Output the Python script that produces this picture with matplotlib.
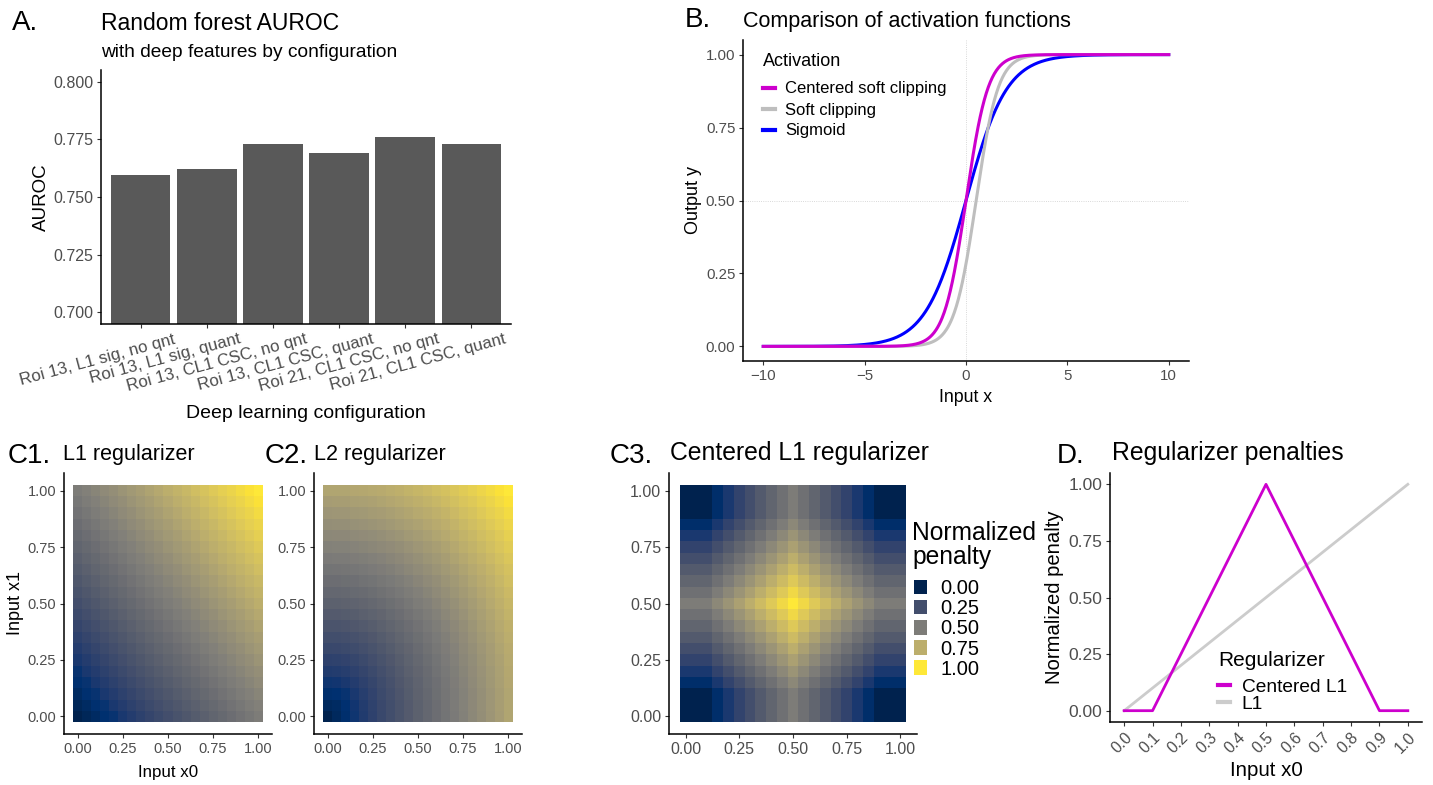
import numpy as np
import matplotlib
matplotlib.use("Agg")
import matplotlib.pyplot as plt
from matplotlib.patches import Patch
from matplotlib.transforms import ScaledTranslation

plt.rcParams['font.family'] = ['Liberation Sans', 'DejaVu Sans']

# ---- data ----
# A. random forest AUROC per deep learning configuration
configs = ["Roi 13, L1 sig, no qnt", "Roi 13, L1 sig, quant",
           "Roi 13, CL1 CSC, no qnt", "Roi 13, CL1 CSC, quant",
           "Roi 21, CL1 CSC, no qnt", "Roi 21, CL1 CSC, quant"]
auroc = [0.7597, 0.7622, 0.7730, 0.7692, 0.7760, 0.7730]

# B. activation functions (sharpness of the soft clipping)
act_x = np.linspace(-10, 10, 801)
clip_p = 2.0

# C. regularizer grids (value per input along one axis)
grid = [0.00, 0.05, 0.10, 0.15, 0.20, 0.25, 0.30, 0.35, 0.40, 0.45, 0.50,
        0.55, 0.60, 0.65, 0.70, 0.75, 0.80, 0.85, 0.90, 0.95, 1.00]
centered_grid = [0.0, 0.0, 0.0, 0.125, 0.25, 0.375, 0.5, 0.625, 0.75, 0.875, 1.0,
                 0.875, 0.75, 0.625, 0.5, 0.375, 0.25, 0.125, 0.0, 0.0, 0.0]

# D. regularizer penalties along x0
pen_x = [0.0, 0.1, 0.2, 0.3, 0.4, 0.5, 0.6, 0.7, 0.8, 0.9, 1.0]
pen_centered = [0.0, 0.0, 0.25, 0.5, 0.75, 1.0, 0.75, 0.5, 0.25, 0.0, 0.0]
pen_l1 = [0.0, 0.1, 0.2, 0.3, 0.4, 0.5, 0.6, 0.7, 0.8, 0.9, 1.0]

MAGENTA = '#CD00CD'
TICKCOL = '#4D4D4D'

W, H = 1433, 785
fig = plt.figure(figsize=(W / 100, H / 100), dpi=100)


def box(l, t, r, b):
    return [l / W, 1 - b / H, (r - l) / W, (b - t) / H]


def ftext(x, y, s, **kw):
    kw.setdefault('va', 'baseline')
    fig.text(x / W, 1 - y / H, s, **kw)


def style(ax, size=11.5):
    for s in ['top', 'right']:
        ax.spines[s].set_visible(False)
    for s in ['left', 'bottom']:
        ax.spines[s].set_linewidth(1.1)
    ax.tick_params(length=3, width=0.8, color='#333333', labelcolor=TICKCOL,
                   labelsize=size, pad=2.5)


def legend_at(ax, handles, x, yc, **kw):
    leg = ax.legend(handles=handles, frameon=False, loc='center left',
                    bbox_to_anchor=(x / W, 1 - yc / H),
                    bbox_transform=fig.transFigure, borderpad=0,
                    borderaxespad=0, **kw)
    return leg


# ---- A ----
axA = fig.add_axes(box(101, 70, 511, 324))
style(axA)
pos = np.arange(1, len(configs) + 1)
axA.bar(pos, auroc, width=0.9, color='#595959')
axA.set_xlim(0.4, 6.6)
axA.set_ylim(0.695, 0.805)
axA.set_yticks([0.700, 0.725, 0.750, 0.775, 0.800])
axA.set_yticklabels(['0.700', '0.725', '0.750', '0.775', '0.800'])
axA.set_xticks(pos)
axA.set_xticklabels(configs, rotation=15, ha='right', fontsize=12.2)
shift = ScaledTranslation(0.36, 0, fig.dpi_scale_trans)
for lab in axA.get_xticklabels():
    lab.set_transform(lab.get_transform() + shift)
ftext(12, 30, 'A.', fontsize=20)
ftext(101, 30, 'Random forest AUROC', fontsize=16.5)
ftext(101, 57, 'with deep features by configuration', fontsize=13.8)
ftext(306, 413, 'Deep learning configuration', fontsize=14, ha='center', va='center')
ftext(41, 197, 'AUROC', fontsize=13.5, ha='center', va='center', rotation=90)

# ---- B ----
axB = fig.add_axes(box(743, 40, 1189, 361))
style(axB, 10.8)
axB.axvline(0, color='#CCCCCC', lw=0.6, ls=':', zorder=0)
axB.axhline(0.5, color='#CCCCCC', lw=0.6, ls=':', zorder=0)


def soft_clip(x, p):
    return np.log((1 + np.exp(p * x)) / (1 + np.exp(p * (x - 1)))) / p


l_sig, = axB.plot(act_x, 1 / (1 + np.exp(-act_x)), color='#0000FF', lw=2.2,
                  label='Sigmoid')
l_sc, = axB.plot(act_x, soft_clip(act_x, clip_p), color='#BEBEBE', lw=2.2,
                 label='Soft clipping')
l_csc, = axB.plot(act_x, soft_clip(act_x + 0.5, clip_p), color=MAGENTA, lw=2.2,
                  label='Centered soft clipping')
axB.set_xlim(-11, 11)
axB.set_ylim(-0.05, 1.05)
axB.set_xticks([-10, -5, 0, 5, 10])
axB.set_yticks([0, 0.25, 0.5, 0.75, 1.0])
axB.set_yticklabels(['0.00', '0.25', '0.50', '0.75', '1.00'])
legB = legend_at(axB, [l_csc, l_sc, l_sig], 763, 110, fontsize=12,
                 handlelength=0.72, handletextpad=0.6, labelspacing=0.36)
for h in legB.legend_handles:
    h.set_linewidth(3)
ftext(763, 62, 'Activation', fontsize=13, va='center')
ftext(685, 27, 'B.', fontsize=20)
ftext(743, 27, 'Comparison of activation functions', fontsize=15.5)
ftext(966, 397, 'Input x', fontsize=12.8, ha='center', va='center')
ftext(694, 200, 'Output y', fontsize=13, ha='center', va='center', rotation=90)

# ---- C ----
g = np.array(grid)
c = np.array(centered_grid)
edges = np.append(g - 0.025, g[-1] + 0.025)
heat = {
    'C1': np.add.outer(g, g) / 2,
    'C2': np.sqrt(np.add.outer(g ** 2, g ** 2) / 2),
    'C3': np.add.outer(c, c) / 2,
}
c_boxes = {'C1': (64, 473, 272, 734), 'C2': (314, 473, 522, 734),
           'C3': (669, 473, 917, 734)}
c_titles = {'C1': (8, 63, 'L1 regularizer', 15.5),
            'C2': (265, 314, 'L2 regularizer', 15.5),
            'C3': (610, 670, 'Centered L1 regularizer', 17.8)}
ticks = [0, 0.25, 0.5, 0.75, 1.0]
tick_lab = ['0.00', '0.25', '0.50', '0.75', '1.00']
for key in ['C1', 'C2', 'C3']:
    ax = fig.add_axes(box(*c_boxes[key]))
    style(ax, 11.5 if key == 'C3' else 10.5)
    ax.pcolormesh(edges, edges, heat[key], cmap='cividis', vmin=0, vmax=1,
                  shading='flat')
    ax.set_xlim(-0.0775, 1.0775)
    ax.set_ylim(-0.0775, 1.0775)
    ax.set_xticks(ticks)
    ax.set_xticklabels(tick_lab)
    ax.set_yticks(ticks)
    ax.set_yticklabels(tick_lab)
    lx, tx, title, tsize = c_titles[key]
    ftext(lx, 463, key + '.', fontsize=20)
    ftext(tx, 460, title, fontsize=tsize)
    if key == 'C3':
        cmap = plt.get_cmap('cividis')
        handles = [Patch(facecolor=cmap(v), edgecolor='none', label=t)
                   for v, t in zip(ticks, tick_lab)]
        legend_at(ax, handles, 914, 629, fontsize=14.5, handlelength=0.65,
                  handleheight=0.7, handletextpad=0.65, labelspacing=0.05)
        ftext(912, 545, 'Normalized\npenalty', fontsize=17.7, va='center',
              linespacing=1.0)
ftext(168, 772, 'Input x0', fontsize=12.2, ha='center', va='center')
ftext(15, 603, 'Input x1', fontsize=13, ha='center', va='center', rotation=90)

# ---- D ----
axD = fig.add_axes(box(1110, 473, 1422, 722))
style(axD, 12.5)
ld_l1, = axD.plot(pen_x, pen_l1, color='#CCCCCC', lw=2, label='L1')
ld_c, = axD.plot(pen_x, pen_centered, color=MAGENTA, lw=2, label='Centered L1')
axD.set_xlim(-0.05, 1.05)
axD.set_ylim(-0.05, 1.05)
axD.set_xticks(pen_x)
axD.set_xticklabels(['%.1f' % v for v in pen_x], rotation=45, ha='right',
                    rotation_mode='anchor', fontsize=11.5)
axD.set_yticks(ticks)
axD.set_yticklabels(tick_lab)
legD = legend_at(axD, [ld_c, ld_l1], 1218, 695.5, fontsize=13.8,
                 handlelength=0.625, handletextpad=0.61, labelspacing=-0.02)
for h in legD.legend_handles:
    h.set_linewidth(3)
ftext(1218, 660, 'Regularizer', fontsize=15, va='center')
ftext(1057, 463, 'D.', fontsize=20)
ftext(1112, 460, 'Regularizer penalties', fontsize=17.8)
ftext(1266, 770, 'Input x0', fontsize=14.8, ha='center', va='center')
ftext(1055, 597, 'Normalized penalty', fontsize=14.6, ha='center', va='center',
      rotation=90)

fig.savefig('out.png', dpi=100)
